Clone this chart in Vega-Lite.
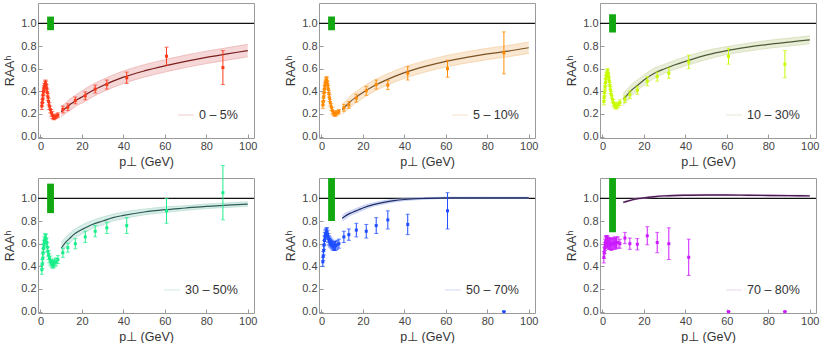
{
"$schema":"https://vega.github.io/schema/vega-lite/v6.json",
"padding":{"left":3,"top":2,"right":0,"bottom":0},
"datasets":{
"box":[
{"p":1,"x":3.2,"x2":6.5,"y":0.94,"y2":1.06},
{"p":2,"x":3.2,"x2":6.5,"y":0.94,"y2":1.06},
{"p":3,"x":3.2,"x2":6.5,"y":0.92,"y2":1.08},
{"p":4,"x":3.2,"x2":6.5,"y":0.87,"y2":1.13},
{"p":5,"x":3.2,"x2":6.5,"y":0.80,"y2":1.20},
{"p":6,"x":3.2,"x2":6.5,"y":0.70,"y2":1.30}
],
"th":[
{"p":1,"c":"0 – 5%","x":10,"y":0.22,"e":0.045},{"p":1,"c":"0 – 5%","x":12,"y":0.25,"e":0.045},{"p":1,"c":"0 – 5%","x":14,"y":0.28,"e":0.05},{"p":1,"c":"0 – 5%","x":16,"y":0.305,"e":0.05},{"p":1,"c":"0 – 5%","x":18,"y":0.33,"e":0.05},{"p":1,"c":"0 – 5%","x":20,"y":0.35,"e":0.055},{"p":1,"c":"0 – 5%","x":25,"y":0.405,"e":0.055},{"p":1,"c":"0 – 5%","x":30,"y":0.45,"e":0.055},{"p":1,"c":"0 – 5%","x":35,"y":0.49,"e":0.055},{"p":1,"c":"0 – 5%","x":40,"y":0.525,"e":0.055},{"p":1,"c":"0 – 5%","x":50,"y":0.58,"e":0.055},{"p":1,"c":"0 – 5%","x":60,"y":0.625,"e":0.055},{"p":1,"c":"0 – 5%","x":70,"y":0.665,"e":0.055},{"p":1,"c":"0 – 5%","x":80,"y":0.70,"e":0.055},{"p":1,"c":"0 – 5%","x":90,"y":0.73,"e":0.055},{"p":1,"c":"0 – 5%","x":100,"y":0.76,"e":0.055},
{"p":2,"c":"5 – 10%","x":10,"y":0.24,"e":0.045},{"p":2,"c":"5 – 10%","x":12,"y":0.275,"e":0.045},{"p":2,"c":"5 – 10%","x":14,"y":0.31,"e":0.05},{"p":2,"c":"5 – 10%","x":16,"y":0.34,"e":0.05},{"p":2,"c":"5 – 10%","x":18,"y":0.365,"e":0.05},{"p":2,"c":"5 – 10%","x":20,"y":0.39,"e":0.05},{"p":2,"c":"5 – 10%","x":25,"y":0.445,"e":0.05},{"p":2,"c":"5 – 10%","x":30,"y":0.49,"e":0.05},{"p":2,"c":"5 – 10%","x":35,"y":0.53,"e":0.05},{"p":2,"c":"5 – 10%","x":40,"y":0.565,"e":0.05},{"p":2,"c":"5 – 10%","x":50,"y":0.62,"e":0.05},{"p":2,"c":"5 – 10%","x":60,"y":0.665,"e":0.05},{"p":2,"c":"5 – 10%","x":70,"y":0.70,"e":0.05},{"p":2,"c":"5 – 10%","x":80,"y":0.73,"e":0.05},{"p":2,"c":"5 – 10%","x":90,"y":0.755,"e":0.05},{"p":2,"c":"5 – 10%","x":100,"y":0.785,"e":0.05},
{"p":3,"c":"10 – 30%","x":10,"y":0.33,"e":0.055},{"p":3,"c":"10 – 30%","x":12,"y":0.37,"e":0.05},{"p":3,"c":"10 – 30%","x":14,"y":0.41,"e":0.05},{"p":3,"c":"10 – 30%","x":16,"y":0.44,"e":0.05},{"p":3,"c":"10 – 30%","x":18,"y":0.47,"e":0.045},{"p":3,"c":"10 – 30%","x":20,"y":0.50,"e":0.045},{"p":3,"c":"10 – 30%","x":25,"y":0.56,"e":0.045},{"p":3,"c":"10 – 30%","x":30,"y":0.60,"e":0.04},{"p":3,"c":"10 – 30%","x":35,"y":0.635,"e":0.04},{"p":3,"c":"10 – 30%","x":40,"y":0.665,"e":0.04},{"p":3,"c":"10 – 30%","x":50,"y":0.72,"e":0.04},{"p":3,"c":"10 – 30%","x":60,"y":0.76,"e":0.035},{"p":3,"c":"10 – 30%","x":70,"y":0.79,"e":0.035},{"p":3,"c":"10 – 30%","x":80,"y":0.815,"e":0.035},{"p":3,"c":"10 – 30%","x":90,"y":0.835,"e":0.035},{"p":3,"c":"10 – 30%","x":100,"y":0.855,"e":0.035},
{"p":4,"c":"30 – 50%","x":10,"y":0.56,"e":0.05},{"p":4,"c":"30 – 50%","x":12,"y":0.61,"e":0.045},{"p":4,"c":"30 – 50%","x":14,"y":0.645,"e":0.045},{"p":4,"c":"30 – 50%","x":16,"y":0.68,"e":0.04},{"p":4,"c":"30 – 50%","x":18,"y":0.705,"e":0.04},{"p":4,"c":"30 – 50%","x":20,"y":0.725,"e":0.04},{"p":4,"c":"30 – 50%","x":25,"y":0.77,"e":0.035},{"p":4,"c":"30 – 50%","x":30,"y":0.80,"e":0.035},{"p":4,"c":"30 – 50%","x":35,"y":0.83,"e":0.03},{"p":4,"c":"30 – 50%","x":40,"y":0.85,"e":0.03},{"p":4,"c":"30 – 50%","x":50,"y":0.88,"e":0.025},{"p":4,"c":"30 – 50%","x":60,"y":0.90,"e":0.025},{"p":4,"c":"30 – 50%","x":70,"y":0.915,"e":0.02},{"p":4,"c":"30 – 50%","x":80,"y":0.93,"e":0.02},{"p":4,"c":"30 – 50%","x":90,"y":0.94,"e":0.02},{"p":4,"c":"30 – 50%","x":100,"y":0.95,"e":0.02},
{"p":5,"c":"50 – 70%","x":10,"y":0.825,"e":0.025},{"p":5,"c":"50 – 70%","x":12,"y":0.85,"e":0.025},{"p":5,"c":"50 – 70%","x":14,"y":0.87,"e":0.02},{"p":5,"c":"50 – 70%","x":16,"y":0.885,"e":0.02},{"p":5,"c":"50 – 70%","x":18,"y":0.90,"e":0.02},{"p":5,"c":"50 – 70%","x":20,"y":0.915,"e":0.02},{"p":5,"c":"50 – 70%","x":25,"y":0.945,"e":0.015},{"p":5,"c":"50 – 70%","x":30,"y":0.965,"e":0.015},{"p":5,"c":"50 – 70%","x":35,"y":0.98,"e":0.012},{"p":5,"c":"50 – 70%","x":40,"y":0.99,"e":0.01},{"p":5,"c":"50 – 70%","x":50,"y":1.0,"e":0.008},{"p":5,"c":"50 – 70%","x":60,"y":1.005,"e":0.006},{"p":5,"c":"50 – 70%","x":70,"y":1.005,"e":0.006},{"p":5,"c":"50 – 70%","x":80,"y":1.005,"e":0.006},{"p":5,"c":"50 – 70%","x":90,"y":1.005,"e":0.006},{"p":5,"c":"50 – 70%","x":100,"y":1.005,"e":0.006},
{"p":6,"c":"70 – 80%","x":10,"y":0.965,"e":0.006},{"p":6,"c":"70 – 80%","x":12,"y":0.975,"e":0.006},{"p":6,"c":"70 – 80%","x":14,"y":0.985,"e":0.006},{"p":6,"c":"70 – 80%","x":16,"y":0.995,"e":0.006},{"p":6,"c":"70 – 80%","x":18,"y":1.0,"e":0.006},{"p":6,"c":"70 – 80%","x":20,"y":1.005,"e":0.006},{"p":6,"c":"70 – 80%","x":25,"y":1.015,"e":0.006},{"p":6,"c":"70 – 80%","x":30,"y":1.022,"e":0.006},{"p":6,"c":"70 – 80%","x":35,"y":1.026,"e":0.006},{"p":6,"c":"70 – 80%","x":40,"y":1.028,"e":0.006},{"p":6,"c":"70 – 80%","x":50,"y":1.03,"e":0.006},{"p":6,"c":"70 – 80%","x":60,"y":1.03,"e":0.006},{"p":6,"c":"70 – 80%","x":70,"y":1.028,"e":0.006},{"p":6,"c":"70 – 80%","x":80,"y":1.026,"e":0.006},{"p":6,"c":"70 – 80%","x":90,"y":1.024,"e":0.006},{"p":6,"c":"70 – 80%","x":100,"y":1.022,"e":0.006}
],
"pts":[
{"p":1,"x":0.65,"y":0.27,"e":0.03},{"p":1,"x":0.85,"y":0.30,"e":0.03},{"p":1,"x":1.05,"y":0.33,"e":0.03},{"p":1,"x":1.25,"y":0.37,"e":0.03},{"p":1,"x":1.45,"y":0.40,"e":0.03},{"p":1,"x":1.65,"y":0.42,"e":0.03},{"p":1,"x":1.85,"y":0.44,"e":0.03},{"p":1,"x":2.1,"y":0.46,"e":0.03},{"p":1,"x":2.4,"y":0.47,"e":0.03},{"p":1,"x":2.7,"y":0.46,"e":0.03},{"p":1,"x":3.0,"y":0.43,"e":0.03},{"p":1,"x":3.3,"y":0.39,"e":0.03},{"p":1,"x":3.6,"y":0.35,"e":0.03},{"p":1,"x":3.9,"y":0.31,"e":0.03},{"p":1,"x":4.25,"y":0.27,"e":0.03},{"p":1,"x":4.75,"y":0.24,"e":0.03},{"p":1,"x":5.25,"y":0.21,"e":0.03},{"p":1,"x":5.75,"y":0.19,"e":0.03},{"p":1,"x":6.25,"y":0.17,"e":0.02},{"p":1,"x":6.75,"y":0.17,"e":0.02},{"p":1,"x":7.5,"y":0.18,"e":0.02},{"p":1,"x":8.4,"y":0.19,"e":0.02},
{"p":1,"x":10.8,"y":0.24,"e":0.03},{"p":1,"x":13.2,"y":0.26,"e":0.03},{"p":1,"x":16.8,"y":0.32,"e":0.03},{"p":1,"x":21.6,"y":0.36,"e":0.035},{"p":1,"x":26.4,"y":0.42,"e":0.035},{"p":1,"x":32.0,"y":0.46,"e":0.04},{"p":1,"x":41.6,"y":0.52,"e":0.05},{"p":1,"x":60.8,"y":0.71,"e":0.08},{"p":1,"x":88.0,"y":0.61,"e":0.15},
{"p":2,"x":0.65,"y":0.28,"e":0.03},{"p":2,"x":0.85,"y":0.31,"e":0.03},{"p":2,"x":1.05,"y":0.35,"e":0.03},{"p":2,"x":1.25,"y":0.39,"e":0.03},{"p":2,"x":1.45,"y":0.42,"e":0.03},{"p":2,"x":1.65,"y":0.45,"e":0.03},{"p":2,"x":1.85,"y":0.47,"e":0.03},{"p":2,"x":2.1,"y":0.49,"e":0.03},{"p":2,"x":2.4,"y":0.50,"e":0.03},{"p":2,"x":2.7,"y":0.49,"e":0.03},{"p":2,"x":3.0,"y":0.46,"e":0.03},{"p":2,"x":3.3,"y":0.42,"e":0.03},{"p":2,"x":3.6,"y":0.38,"e":0.03},{"p":2,"x":3.9,"y":0.34,"e":0.03},{"p":2,"x":4.25,"y":0.30,"e":0.03},{"p":2,"x":4.75,"y":0.26,"e":0.03},{"p":2,"x":5.25,"y":0.23,"e":0.03},{"p":2,"x":5.75,"y":0.21,"e":0.02},{"p":2,"x":6.25,"y":0.20,"e":0.02},{"p":2,"x":6.75,"y":0.20,"e":0.02},{"p":2,"x":7.5,"y":0.21,"e":0.02},{"p":2,"x":8.4,"y":0.22,"e":0.02},
{"p":2,"x":10.8,"y":0.255,"e":0.03},{"p":2,"x":13.2,"y":0.28,"e":0.03},{"p":2,"x":16.8,"y":0.34,"e":0.035},{"p":2,"x":21.6,"y":0.405,"e":0.04},{"p":2,"x":26.4,"y":0.46,"e":0.04},{"p":2,"x":32.0,"y":0.455,"e":0.04},{"p":2,"x":41.6,"y":0.56,"e":0.06},{"p":2,"x":60.8,"y":0.60,"e":0.075},{"p":2,"x":88.0,"y":0.74,"e":0.185},
{"p":3,"x":0.65,"y":0.31,"e":0.03},{"p":3,"x":0.85,"y":0.35,"e":0.03},{"p":3,"x":1.05,"y":0.39,"e":0.03},{"p":3,"x":1.25,"y":0.44,"e":0.03},{"p":3,"x":1.45,"y":0.48,"e":0.03},{"p":3,"x":1.65,"y":0.51,"e":0.03},{"p":3,"x":1.85,"y":0.54,"e":0.03},{"p":3,"x":2.1,"y":0.56,"e":0.03},{"p":3,"x":2.4,"y":0.57,"e":0.03},{"p":3,"x":2.7,"y":0.56,"e":0.03},{"p":3,"x":3.0,"y":0.53,"e":0.03},{"p":3,"x":3.3,"y":0.49,"e":0.03},{"p":3,"x":3.6,"y":0.45,"e":0.03},{"p":3,"x":3.9,"y":0.41,"e":0.03},{"p":3,"x":4.25,"y":0.37,"e":0.03},{"p":3,"x":4.75,"y":0.33,"e":0.03},{"p":3,"x":5.25,"y":0.30,"e":0.03},{"p":3,"x":5.75,"y":0.28,"e":0.025},{"p":3,"x":6.25,"y":0.27,"e":0.025},{"p":3,"x":6.75,"y":0.27,"e":0.025},{"p":3,"x":7.5,"y":0.28,"e":0.025},{"p":3,"x":8.4,"y":0.30,"e":0.025},
{"p":3,"x":10.8,"y":0.33,"e":0.03},{"p":3,"x":13.2,"y":0.37,"e":0.035},{"p":3,"x":16.8,"y":0.41,"e":0.035},{"p":3,"x":21.6,"y":0.49,"e":0.04},{"p":3,"x":26.4,"y":0.53,"e":0.04},{"p":3,"x":32.0,"y":0.56,"e":0.045},{"p":3,"x":41.6,"y":0.66,"e":0.06},{"p":3,"x":60.8,"y":0.71,"e":0.07},{"p":3,"x":88.0,"y":0.64,"e":0.12},
{"p":4,"x":0.65,"y":0.37,"e":0.04},{"p":4,"x":0.85,"y":0.42,"e":0.04},{"p":4,"x":1.05,"y":0.47,"e":0.04},{"p":4,"x":1.25,"y":0.52,"e":0.04},{"p":4,"x":1.45,"y":0.56,"e":0.04},{"p":4,"x":1.65,"y":0.59,"e":0.04},{"p":4,"x":1.85,"y":0.62,"e":0.04},{"p":4,"x":2.1,"y":0.64,"e":0.04},{"p":4,"x":2.4,"y":0.65,"e":0.04},{"p":4,"x":2.7,"y":0.64,"e":0.04},{"p":4,"x":3.0,"y":0.61,"e":0.04},{"p":4,"x":3.3,"y":0.57,"e":0.04},{"p":4,"x":3.6,"y":0.53,"e":0.04},{"p":4,"x":3.9,"y":0.50,"e":0.04},{"p":4,"x":4.25,"y":0.47,"e":0.04},{"p":4,"x":4.75,"y":0.45,"e":0.04},{"p":4,"x":5.25,"y":0.43,"e":0.035},{"p":4,"x":5.75,"y":0.42,"e":0.035},{"p":4,"x":6.25,"y":0.42,"e":0.035},{"p":4,"x":6.75,"y":0.43,"e":0.035},{"p":4,"x":7.5,"y":0.44,"e":0.035},{"p":4,"x":8.4,"y":0.46,"e":0.035},
{"p":4,"x":10.8,"y":0.52,"e":0.04},{"p":4,"x":13.2,"y":0.565,"e":0.04},{"p":4,"x":16.8,"y":0.60,"e":0.045},{"p":4,"x":21.6,"y":0.66,"e":0.05},{"p":4,"x":26.4,"y":0.71,"e":0.05},{"p":4,"x":32.0,"y":0.74,"e":0.05},{"p":4,"x":41.6,"y":0.76,"e":0.07},{"p":4,"x":60.8,"y":0.89,"e":0.11},{"p":4,"x":88.0,"y":1.05,"e":0.24},
{"p":5,"x":0.65,"y":0.44,"e":0.04},{"p":5,"x":0.85,"y":0.49,"e":0.04},{"p":5,"x":1.05,"y":0.54,"e":0.04},{"p":5,"x":1.25,"y":0.59,"e":0.04},{"p":5,"x":1.45,"y":0.63,"e":0.04},{"p":5,"x":1.65,"y":0.66,"e":0.04},{"p":5,"x":1.85,"y":0.68,"e":0.04},{"p":5,"x":2.1,"y":0.69,"e":0.04},{"p":5,"x":2.4,"y":0.70,"e":0.04},{"p":5,"x":2.7,"y":0.70,"e":0.04},{"p":5,"x":3.0,"y":0.68,"e":0.04},{"p":5,"x":3.3,"y":0.65,"e":0.04},{"p":5,"x":3.6,"y":0.63,"e":0.04},{"p":5,"x":3.9,"y":0.62,"e":0.04},{"p":5,"x":4.25,"y":0.61,"e":0.04},{"p":5,"x":4.75,"y":0.60,"e":0.04},{"p":5,"x":5.25,"y":0.59,"e":0.04},{"p":5,"x":5.75,"y":0.58,"e":0.04},{"p":5,"x":6.25,"y":0.58,"e":0.04},{"p":5,"x":6.75,"y":0.58,"e":0.04},{"p":5,"x":7.5,"y":0.59,"e":0.04},{"p":5,"x":8.4,"y":0.60,"e":0.04},
{"p":5,"x":10.8,"y":0.66,"e":0.05},{"p":5,"x":13.2,"y":0.68,"e":0.05},{"p":5,"x":16.8,"y":0.72,"e":0.06},{"p":5,"x":21.6,"y":0.71,"e":0.06},{"p":5,"x":26.4,"y":0.76,"e":0.07},{"p":5,"x":32.0,"y":0.81,"e":0.08},{"p":5,"x":41.6,"y":0.77,"e":0.09},{"p":5,"x":60.8,"y":0.89,"e":0.16},{"p":5,"x":88.0,"y":0.0,"e":0.0},
{"p":6,"x":0.65,"y":0.48,"e":0.05},{"p":6,"x":0.85,"y":0.52,"e":0.05},{"p":6,"x":1.05,"y":0.56,"e":0.05},{"p":6,"x":1.25,"y":0.59,"e":0.05},{"p":6,"x":1.45,"y":0.61,"e":0.05},{"p":6,"x":1.65,"y":0.62,"e":0.05},{"p":6,"x":1.85,"y":0.62,"e":0.05},{"p":6,"x":2.1,"y":0.62,"e":0.05},{"p":6,"x":2.4,"y":0.62,"e":0.05},{"p":6,"x":2.7,"y":0.61,"e":0.05},{"p":6,"x":3.0,"y":0.60,"e":0.05},{"p":6,"x":3.3,"y":0.60,"e":0.05},{"p":6,"x":3.6,"y":0.60,"e":0.05},{"p":6,"x":3.9,"y":0.60,"e":0.05},{"p":6,"x":4.25,"y":0.59,"e":0.05},{"p":6,"x":4.75,"y":0.60,"e":0.05},{"p":6,"x":5.25,"y":0.60,"e":0.05},{"p":6,"x":5.75,"y":0.61,"e":0.05},{"p":6,"x":6.25,"y":0.60,"e":0.05},{"p":6,"x":6.75,"y":0.61,"e":0.05},{"p":6,"x":7.5,"y":0.61,"e":0.05},{"p":6,"x":8.4,"y":0.60,"e":0.04},
{"p":6,"x":10.8,"y":0.65,"e":0.05},{"p":6,"x":13.2,"y":0.60,"e":0.05},{"p":6,"x":16.8,"y":0.595,"e":0.05},{"p":6,"x":21.6,"y":0.67,"e":0.08},{"p":6,"x":26.4,"y":0.61,"e":0.09},{"p":6,"x":32.0,"y":0.60,"e":0.14},{"p":6,"x":41.6,"y":0.48,"e":0.16},{"p":6,"x":60.8,"y":0.0,"e":0.0},{"p":6,"x":88.0,"y":0.0,"e":0.0}
]
},
"columns":3,
"concat":[
{"width":216,"height":135,
"encoding":{"x":{"field":"x","type":"quantitative","scale":{"domain":[-1.2,103],"nice":false,"zero":false},"title":"p⊥ (GeV)","axis":{"values":[0,20,40,60,80,100]}},"y":{"field":"y","type":"quantitative","scale":{"domain":[-0.012,1.18],"nice":false,"zero":false},"title":"RAAʰ","axis":{"values":[0,0.2,0.4,0.6,0.8,1],"format":".1f"}}},
"layer":[
{"data":{"name":"box"},"transform":[{"filter":"datum.p==1"}],"mark":{"type":"rule","color":"#111","strokeWidth":1.2},"encoding":{"x":{"datum":-1.2,"type":"quantitative"},"x2":{"datum":103},"y":{"datum":1,"type":"quantitative"}}},
{"data":{"name":"box"},"transform":[{"filter":"datum.p==1"}],"mark":{"type":"rect","color":"#12a812","clip":true},"encoding":{"x2":{"field":"x2"},"y2":{"field":"y2"}}},
{"data":{"name":"th"},"transform":[{"filter":"datum.p==1"}],"mark":{"type":"errorband","interpolate":"monotone","band":{"opacity":0.4},"borders":{"opacity":0.9,"strokeWidth":0.6}},"encoding":{"yError":{"field":"e"},"color":{"field":"c","type":"nominal","scale":{"range":["#e79a9a"]},"legend":{"title":null}}}},
{"data":{"name":"th"},"transform":[{"filter":"datum.p==1"}],"mark":{"type":"line","interpolate":"monotone","color":"#7a1e1e","strokeWidth":1.2},"encoding":{}},
{"data":{"name":"pts"},"transform":[{"filter":"datum.p==1"}],"mark":{"type":"errorbar","ticks":{"size":4},"color":"#ff3a1a","thickness":1},"encoding":{"yError":{"field":"e"}}},
{"data":{"name":"pts"},"transform":[{"filter":"datum.p==1"}],"mark":{"type":"square","color":"#ff3a1a","size":9,"opacity":1},"encoding":{}}
]},
{"width":216,"height":135,
"encoding":{"x":{"field":"x","type":"quantitative","scale":{"domain":[-1.2,103],"nice":false,"zero":false},"title":"p⊥ (GeV)","axis":{"values":[0,20,40,60,80,100]}},"y":{"field":"y","type":"quantitative","scale":{"domain":[-0.012,1.18],"nice":false,"zero":false},"title":"RAAʰ","axis":{"values":[0,0.2,0.4,0.6,0.8,1],"format":".1f"}}},
"layer":[
{"data":{"name":"box"},"transform":[{"filter":"datum.p==2"}],"mark":{"type":"rule","color":"#111","strokeWidth":1.2},"encoding":{"x":{"datum":-1.2,"type":"quantitative"},"x2":{"datum":103},"y":{"datum":1,"type":"quantitative"}}},
{"data":{"name":"box"},"transform":[{"filter":"datum.p==2"}],"mark":{"type":"rect","color":"#12a812","clip":true},"encoding":{"x2":{"field":"x2"},"y2":{"field":"y2"}}},
{"data":{"name":"th"},"transform":[{"filter":"datum.p==2"}],"mark":{"type":"errorband","interpolate":"monotone","band":{"opacity":0.4},"borders":{"opacity":0.9,"strokeWidth":0.6}},"encoding":{"yError":{"field":"e"},"color":{"field":"c","type":"nominal","scale":{"range":["#f0c48c"]},"legend":{"title":null}}}},
{"data":{"name":"th"},"transform":[{"filter":"datum.p==2"}],"mark":{"type":"line","interpolate":"monotone","color":"#7a5224","strokeWidth":1.2},"encoding":{}},
{"data":{"name":"pts"},"transform":[{"filter":"datum.p==2"}],"mark":{"type":"errorbar","ticks":{"size":4},"color":"#ff8a00","thickness":1},"encoding":{"yError":{"field":"e"}}},
{"data":{"name":"pts"},"transform":[{"filter":"datum.p==2"}],"mark":{"type":"square","color":"#ff8a00","size":9,"opacity":1},"encoding":{}}
]},
{"width":216,"height":135,
"encoding":{"x":{"field":"x","type":"quantitative","scale":{"domain":[-1.2,103],"nice":false,"zero":false},"title":"p⊥ (GeV)","axis":{"values":[0,20,40,60,80,100]}},"y":{"field":"y","type":"quantitative","scale":{"domain":[-0.012,1.18],"nice":false,"zero":false},"title":"RAAʰ","axis":{"values":[0,0.2,0.4,0.6,0.8,1],"format":".1f"}}},
"layer":[
{"data":{"name":"box"},"transform":[{"filter":"datum.p==3"}],"mark":{"type":"rule","color":"#111","strokeWidth":1.2},"encoding":{"x":{"datum":-1.2,"type":"quantitative"},"x2":{"datum":103},"y":{"datum":1,"type":"quantitative"}}},
{"data":{"name":"box"},"transform":[{"filter":"datum.p==3"}],"mark":{"type":"rect","color":"#12a812","clip":true},"encoding":{"x2":{"field":"x2"},"y2":{"field":"y2"}}},
{"data":{"name":"th"},"transform":[{"filter":"datum.p==3"}],"mark":{"type":"errorband","interpolate":"monotone","band":{"opacity":0.4},"borders":{"opacity":0.9,"strokeWidth":0.6}},"encoding":{"yError":{"field":"e"},"color":{"field":"c","type":"nominal","scale":{"range":["#c8d4a0"]},"legend":{"title":null}}}},
{"data":{"name":"th"},"transform":[{"filter":"datum.p==3"}],"mark":{"type":"line","interpolate":"monotone","color":"#4e5a35","strokeWidth":1.2},"encoding":{}},
{"data":{"name":"pts"},"transform":[{"filter":"datum.p==3"}],"mark":{"type":"errorbar","ticks":{"size":4},"color":"#c8fa00","thickness":1},"encoding":{"yError":{"field":"e"}}},
{"data":{"name":"pts"},"transform":[{"filter":"datum.p==3"}],"mark":{"type":"square","color":"#c8fa00","size":9,"opacity":1},"encoding":{}}
]},
{"width":216,"height":135,
"encoding":{"x":{"field":"x","type":"quantitative","scale":{"domain":[-1.2,103],"nice":false,"zero":false},"title":"p⊥ (GeV)","axis":{"values":[0,20,40,60,80,100]}},"y":{"field":"y","type":"quantitative","scale":{"domain":[-0.012,1.18],"nice":false,"zero":false},"title":"RAAʰ","axis":{"values":[0,0.2,0.4,0.6,0.8,1],"format":".1f"}}},
"layer":[
{"data":{"name":"box"},"transform":[{"filter":"datum.p==4"}],"mark":{"type":"rule","color":"#111","strokeWidth":1.2},"encoding":{"x":{"datum":-1.2,"type":"quantitative"},"x2":{"datum":103},"y":{"datum":1,"type":"quantitative"}}},
{"data":{"name":"box"},"transform":[{"filter":"datum.p==4"}],"mark":{"type":"rect","color":"#12a812","clip":true},"encoding":{"x2":{"field":"x2"},"y2":{"field":"y2"}}},
{"data":{"name":"th"},"transform":[{"filter":"datum.p==4"}],"mark":{"type":"errorband","interpolate":"monotone","band":{"opacity":0.4},"borders":{"opacity":0.9,"strokeWidth":0.6}},"encoding":{"yError":{"field":"e"},"color":{"field":"c","type":"nominal","scale":{"range":["#a0d4c6"]},"legend":{"title":null}}}},
{"data":{"name":"th"},"transform":[{"filter":"datum.p==4"}],"mark":{"type":"line","interpolate":"monotone","color":"#2c5a55","strokeWidth":1.2},"encoding":{}},
{"data":{"name":"pts"},"transform":[{"filter":"datum.p==4"}],"mark":{"type":"errorbar","ticks":{"size":4},"color":"#1aee8a","thickness":1},"encoding":{"yError":{"field":"e"}}},
{"data":{"name":"pts"},"transform":[{"filter":"datum.p==4"}],"mark":{"type":"square","color":"#1aee8a","size":9,"opacity":1},"encoding":{}}
]},
{"width":216,"height":135,
"encoding":{"x":{"field":"x","type":"quantitative","scale":{"domain":[-1.2,103],"nice":false,"zero":false},"title":"p⊥ (GeV)","axis":{"values":[0,20,40,60,80,100]}},"y":{"field":"y","type":"quantitative","scale":{"domain":[-0.012,1.18],"nice":false,"zero":false},"title":"RAAʰ","axis":{"values":[0,0.2,0.4,0.6,0.8,1],"format":".1f"}}},
"layer":[
{"data":{"name":"box"},"transform":[{"filter":"datum.p==5"}],"mark":{"type":"rule","color":"#111","strokeWidth":1.2},"encoding":{"x":{"datum":-1.2,"type":"quantitative"},"x2":{"datum":103},"y":{"datum":1,"type":"quantitative"}}},
{"data":{"name":"box"},"transform":[{"filter":"datum.p==5"}],"mark":{"type":"rect","color":"#12a812","clip":true},"encoding":{"x2":{"field":"x2"},"y2":{"field":"y2"}}},
{"data":{"name":"th"},"transform":[{"filter":"datum.p==5"}],"mark":{"type":"errorband","interpolate":"monotone","band":{"opacity":0.4},"borders":{"opacity":0.9,"strokeWidth":0.6}},"encoding":{"yError":{"field":"e"},"color":{"field":"c","type":"nominal","scale":{"range":["#a4b4ea"]},"legend":{"title":null}}}},
{"data":{"name":"th"},"transform":[{"filter":"datum.p==5"}],"mark":{"type":"line","interpolate":"monotone","color":"#1c2a66","strokeWidth":1.2},"encoding":{}},
{"data":{"name":"pts"},"transform":[{"filter":"datum.p==5"}],"mark":{"type":"errorbar","ticks":{"size":4},"color":"#1f4dff","thickness":1},"encoding":{"yError":{"field":"e"}}},
{"data":{"name":"pts"},"transform":[{"filter":"datum.p==5"}],"mark":{"type":"square","color":"#1f4dff","size":9,"opacity":1},"encoding":{}}
]},
{"width":216,"height":135,
"encoding":{"x":{"field":"x","type":"quantitative","scale":{"domain":[-1.2,103],"nice":false,"zero":false},"title":"p⊥ (GeV)","axis":{"values":[0,20,40,60,80,100]}},"y":{"field":"y","type":"quantitative","scale":{"domain":[-0.012,1.18],"nice":false,"zero":false},"title":"RAAʰ","axis":{"values":[0,0.2,0.4,0.6,0.8,1],"format":".1f"}}},
"layer":[
{"data":{"name":"box"},"transform":[{"filter":"datum.p==6"}],"mark":{"type":"rule","color":"#111","strokeWidth":1.2},"encoding":{"x":{"datum":-1.2,"type":"quantitative"},"x2":{"datum":103},"y":{"datum":1,"type":"quantitative"}}},
{"data":{"name":"box"},"transform":[{"filter":"datum.p==6"}],"mark":{"type":"rect","color":"#12a812","clip":true},"encoding":{"x2":{"field":"x2"},"y2":{"field":"y2"}}},
{"data":{"name":"th"},"transform":[{"filter":"datum.p==6"}],"mark":{"type":"errorband","interpolate":"monotone","band":{"opacity":0.4},"borders":{"opacity":0.9,"strokeWidth":0.6}},"encoding":{"yError":{"field":"e"},"color":{"field":"c","type":"nominal","scale":{"range":["#cfa8dc"]},"legend":{"title":null}}}},
{"data":{"name":"th"},"transform":[{"filter":"datum.p==6"}],"mark":{"type":"line","interpolate":"monotone","color":"#4a1c50","strokeWidth":1.4},"encoding":{}},
{"data":{"name":"pts"},"transform":[{"filter":"datum.p==6"}],"mark":{"type":"errorbar","ticks":{"size":4},"color":"#cc1aff","thickness":1},"encoding":{"yError":{"field":"e"}}},
{"data":{"name":"pts"},"transform":[{"filter":"datum.p==6"}],"mark":{"type":"square","color":"#cc1aff","size":9,"opacity":1},"encoding":{}}
]}
],
"spacing":{"row":40,"column":65},"bounds":"flush",
"resolve":{"scale":{"color":"independent"},"legend":{"color":"independent"}},
"config":{
"font":"Liberation Sans",
"view":{"stroke":"#9a9a9a","strokeWidth":1},
"axis":{"grid":false,"domain":false,"tickColor":"#9a9a9a","tickSize":-4,"labelPadding":6,"labelFontSize":11,"labelColor":"#444","labelFont":"Liberation Sans","titleFont":"Liberation Sans","titleFontSize":12.5,"titleFontWeight":"normal","titleColor":"#333","labelFlush":false},
"legend":{"orient":"bottom-right","offset":16,"symbolType":"stroke","symbolStrokeWidth":1.2,"symbolSize":250,"labelFontSize":12.5,"labelColor":"#333","labelFont":"Liberation Sans","padding":0}
}
}
